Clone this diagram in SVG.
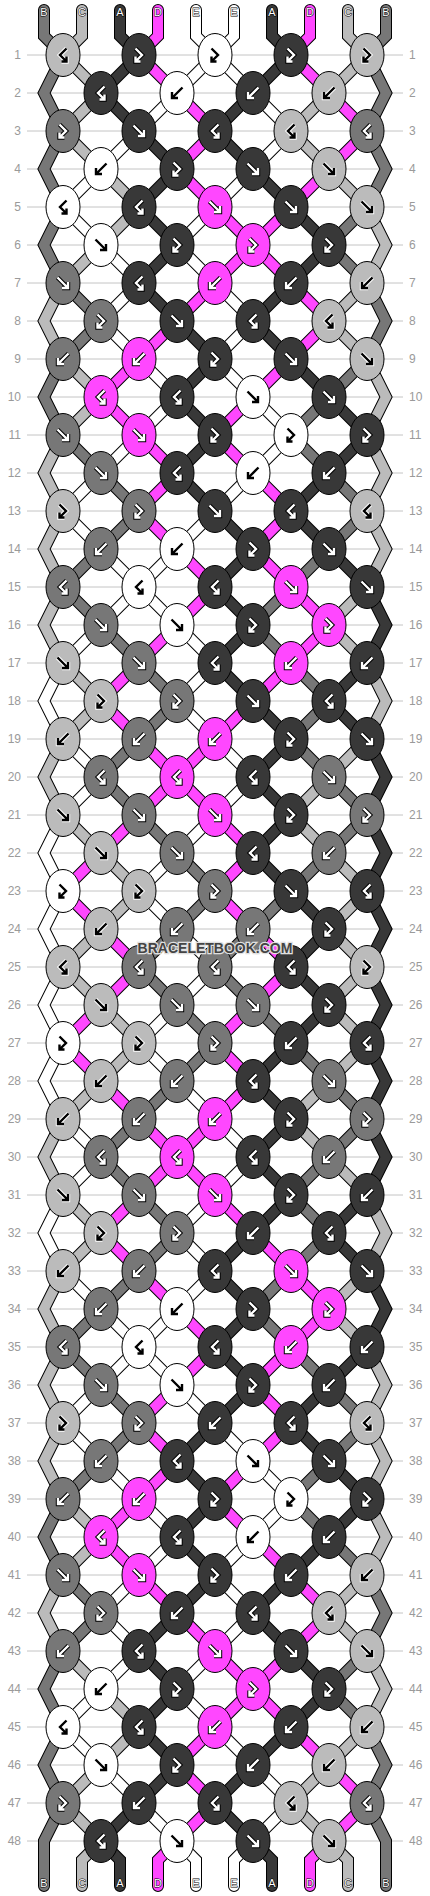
<svg xmlns="http://www.w3.org/2000/svg" width="430" height="1896" viewBox="0 0 430 1896">
<style>
.gl{stroke:#c4c4c4;stroke-width:1;fill:none}
.rl{font:12px "Liberation Sans",Arial,sans-serif;fill:#9a9a9a}
.ll{text-anchor:end}
.o{fill:none;stroke:#000;stroke-width:12;stroke-linecap:round;stroke-linejoin:miter}
.i{fill:none;stroke:currentColor;stroke-width:10;stroke-linecap:round;stroke-linejoin:miter}
.a{color:#383838}.b{color:#777}.c{color:#bbb}.d{color:#ff47ff}.e{color:#fff}
ellipse{stroke:#000;stroke-width:1}
.nA{fill:#383838}.nB{fill:#777}.nC{fill:#bbb}.nD{fill:#ff47ff}.nE{fill:#fff}
.go{fill:none;stroke:#000;stroke-width:4.4}
.gw{fill:none;stroke:#fff;stroke-width:2.4}
.ho{fill:none;stroke:#fff;stroke-width:4.4}
.hk{fill:none;stroke:#000;stroke-width:2.4}
.sl{font:11px "Liberation Sans",Arial,sans-serif;fill:#fff;stroke:#000;stroke-width:1;paint-order:stroke;text-anchor:middle}
.wm{font:bold 14px "Liberation Sans",Arial,sans-serif;fill:#444;stroke:#e0e0e0;stroke-width:2.5;paint-order:stroke;text-anchor:middle}
</style>
<defs>
<path id="pf" d="M-5.5-5.5L5 5M5-1V5H-1"/>
<path id="pb" d="M5.5-5.5L-5 5M-5-1V5H1"/>
<path id="pz" d="M-3.5-6.5L3 0L-3.5 6.5M-3.5 1.5V6.5H1.5"/>
<path id="ps" d="M3.5-6.5L-3 0L3.5 6.5M3.5 1.5V6.5H-1.5"/>
<g id="wf"><use href="#pf" class="go"/><use href="#pf" class="gw"/></g>
<g id="wb"><use href="#pb" class="go"/><use href="#pb" class="gw"/></g>
<g id="wz"><use href="#pz" class="go"/><use href="#pz" class="gw"/></g>
<g id="ws"><use href="#ps" class="go"/><use href="#ps" class="gw"/></g>
<g id="kf"><use href="#pf" class="ho"/><use href="#pf" class="hk"/></g>
<g id="kb"><use href="#pb" class="ho"/><use href="#pb" class="hk"/></g>
<g id="kz"><use href="#pz" class="ho"/><use href="#pz" class="hk"/></g>
<g id="ks"><use href="#ps" class="ho"/><use href="#ps" class="hk"/></g>
<g id="r"><path class="o" d="M0 0l38 38"/><path class="i" d="M0 0l38 38"/></g>
<g id="l"><path class="o" d="M0 0l-38 38"/><path class="i" d="M0 0l-38 38"/></g>
<g id="zl"><path class="o" d="M63 0L44 38L63 76"/><path class="i" d="M63 0L44 38L63 76"/></g>
<g id="zr"><path class="o" d="M367 0L386 38L367 76"/><path class="i" d="M367 0L386 38L367 76"/></g>
<g id="tr"><path class="o" d="M0 10V36l19 19"/><path class="i" d="M0 10V36l19 19"/></g>
<g id="tl"><path class="o" d="M0 10V36l-19 19"/><path class="i" d="M0 10V36l-19 19"/></g>
<g id="br"><path class="o" d="M0 0l19 19V45"/><path class="i" d="M0 0l19 19V45"/></g>
<g id="bl"><path class="o" d="M0 0l-19 19V45"/><path class="i" d="M0 0l-19 19V45"/></g>
</defs>
<rect width="430" height="1896" fill="#fff"/>
<g id="grid">
<path class="gl" d="M27 55H403M27 93H403M27 131H403M27 169H403M27 207H403M27 245H403M27 283H403M27 321H403M27 359H403M27 397H403M27 435H403M27 473H403M27 511H403M27 549H403M27 587H403M27 625H403M27 663H403M27 701H403M27 739H403M27 777H403M27 815H403M27 853H403M27 891H403M27 929H403M27 967H403M27 1005H403M27 1043H403M27 1081H403M27 1119H403M27 1157H403M27 1195H403M27 1233H403M27 1271H403M27 1309H403M27 1347H403M27 1385H403M27 1423H403M27 1461H403M27 1499H403M27 1537H403M27 1575H403M27 1613H403M27 1651H403M27 1689H403M27 1727H403M27 1765H403M27 1803H403M27 1841H403"/>
<g class="rl ll">
<text x="21" y="59">1</text><text x="21" y="97">2</text><text x="21" y="135">3</text><text x="21" y="173">4</text><text x="21" y="211">5</text><text x="21" y="249">6</text><text x="21" y="287">7</text><text x="21" y="325">8</text><text x="21" y="363">9</text><text x="21" y="401">10</text><text x="21" y="439">11</text><text x="21" y="477">12</text><text x="21" y="515">13</text><text x="21" y="553">14</text><text x="21" y="591">15</text><text x="21" y="629">16</text><text x="21" y="667">17</text><text x="21" y="705">18</text><text x="21" y="743">19</text><text x="21" y="781">20</text><text x="21" y="819">21</text><text x="21" y="857">22</text><text x="21" y="895">23</text><text x="21" y="933">24</text><text x="21" y="971">25</text><text x="21" y="1009">26</text><text x="21" y="1047">27</text><text x="21" y="1085">28</text><text x="21" y="1123">29</text><text x="21" y="1161">30</text><text x="21" y="1199">31</text><text x="21" y="1237">32</text><text x="21" y="1275">33</text><text x="21" y="1313">34</text><text x="21" y="1351">35</text><text x="21" y="1389">36</text><text x="21" y="1427">37</text><text x="21" y="1465">38</text><text x="21" y="1503">39</text><text x="21" y="1541">40</text><text x="21" y="1579">41</text><text x="21" y="1617">42</text><text x="21" y="1655">43</text><text x="21" y="1693">44</text><text x="21" y="1731">45</text><text x="21" y="1769">46</text><text x="21" y="1807">47</text><text x="21" y="1845">48</text>
</g>
<g class="rl">
<text x="409" y="59">1</text><text x="409" y="97">2</text><text x="409" y="135">3</text><text x="409" y="173">4</text><text x="409" y="211">5</text><text x="409" y="249">6</text><text x="409" y="287">7</text><text x="409" y="325">8</text><text x="409" y="363">9</text><text x="409" y="401">10</text><text x="409" y="439">11</text><text x="409" y="477">12</text><text x="409" y="515">13</text><text x="409" y="553">14</text><text x="409" y="591">15</text><text x="409" y="629">16</text><text x="409" y="667">17</text><text x="409" y="705">18</text><text x="409" y="743">19</text><text x="409" y="781">20</text><text x="409" y="819">21</text><text x="409" y="857">22</text><text x="409" y="895">23</text><text x="409" y="933">24</text><text x="409" y="971">25</text><text x="409" y="1009">26</text><text x="409" y="1047">27</text><text x="409" y="1085">28</text><text x="409" y="1123">29</text><text x="409" y="1161">30</text><text x="409" y="1199">31</text><text x="409" y="1237">32</text><text x="409" y="1275">33</text><text x="409" y="1313">34</text><text x="409" y="1351">35</text><text x="409" y="1389">36</text><text x="409" y="1427">37</text><text x="409" y="1465">38</text><text x="409" y="1503">39</text><text x="409" y="1541">40</text><text x="409" y="1579">41</text><text x="409" y="1617">42</text><text x="409" y="1655">43</text><text x="409" y="1693">44</text><text x="409" y="1731">45</text><text x="409" y="1769">46</text><text x="409" y="1807">47</text><text x="409" y="1845">48</text>
</g>
</g>
<g id="connectors">
<use href="#tr" x="44" class="b"/><use href="#tl" x="82" class="c"/><use href="#tr" x="120" class="a"/><use href="#tl" x="158" class="d"/><use href="#tr" x="196" class="e"/><use href="#tl" x="234" class="e"/><use href="#tr" x="272" class="a"/><use href="#tl" x="310" class="d"/><use href="#tr" x="348" class="c"/><use href="#tl" x="386" class="b"/>
<use href="#zl" y="55" class="b"/><use href="#zl" y="131" class="b"/><use href="#zl" y="207" class="b"/><use href="#zl" y="283" class="c"/><use href="#zl" y="359" class="b"/><use href="#zl" y="435" class="c"/><use href="#zl" y="511" class="c"/><use href="#zl" y="587" class="c"/><use href="#zl" y="663" class="e"/><use href="#zl" y="739" class="c"/><use href="#zl" y="815" class="e"/><use href="#zl" y="891" class="e"/><use href="#zl" y="967" class="e"/><use href="#zl" y="1043" class="e"/><use href="#zl" y="1119" class="c"/><use href="#zl" y="1195" class="e"/><use href="#zl" y="1271" class="c"/><use href="#zl" y="1347" class="c"/><use href="#zl" y="1423" class="c"/><use href="#zl" y="1499" class="b"/><use href="#zl" y="1575" class="c"/><use href="#zl" y="1651" class="b"/><use href="#zl" y="1727" class="b"/>
<use href="#zr" y="55" class="b"/><use href="#zr" y="131" class="b"/><use href="#zr" y="207" class="c"/><use href="#zr" y="283" class="b"/><use href="#zr" y="359" class="c"/><use href="#zr" y="435" class="c"/><use href="#zr" y="511" class="c"/><use href="#zr" y="587" class="a"/><use href="#zr" y="663" class="c"/><use href="#zr" y="739" class="a"/><use href="#zr" y="815" class="a"/><use href="#zr" y="891" class="a"/><use href="#zr" y="967" class="a"/><use href="#zr" y="1043" class="a"/><use href="#zr" y="1119" class="a"/><use href="#zr" y="1195" class="c"/><use href="#zr" y="1271" class="a"/><use href="#zr" y="1347" class="c"/><use href="#zr" y="1423" class="c"/><use href="#zr" y="1499" class="c"/><use href="#zr" y="1575" class="b"/><use href="#zr" y="1651" class="c"/><use href="#zr" y="1727" class="b"/>
<g class="b"><path class="o" d="M63 1803L44 1841V1886"/><path class="i" d="M63 1803L44 1841V1886"/><path class="o" d="M367 1803L386 1841V1886"/><path class="i" d="M367 1803L386 1841V1886"/></g>
<g transform="translate(0 1841)"><use href="#bl" x="101" class="c"/><use href="#br" x="101" class="a"/><use href="#bl" x="177" class="d"/><use href="#br" x="177" class="e"/><use href="#bl" x="253" class="e"/><use href="#br" x="253" class="a"/><use href="#bl" x="329" class="d"/><use href="#br" x="329" class="c"/></g>
<g transform="translate(0 55)"><use href="#r" x="63" class="c"/><use href="#l" x="139" class="a"/><use href="#r" x="139" class="d"/><use href="#l" x="215" class="e"/><use href="#r" x="215" class="e"/><use href="#l" x="291" class="a"/><use href="#r" x="291" class="d"/><use href="#l" x="367" class="c"/></g>
<g transform="translate(0 93)"><use href="#l" x="101" class="c"/><use href="#r" x="101" class="a"/><use href="#l" x="177" class="e"/><use href="#r" x="177" class="d"/><use href="#l" x="253" class="a"/><use href="#r" x="253" class="e"/><use href="#l" x="329" class="c"/><use href="#r" x="329" class="d"/></g>
<g transform="translate(0 131)"><use href="#r" x="63" class="c"/><use href="#l" x="139" class="e"/><use href="#r" x="139" class="a"/><use href="#l" x="215" class="d"/><use href="#r" x="215" class="a"/><use href="#l" x="291" class="e"/><use href="#r" x="291" class="c"/><use href="#l" x="367" class="d"/></g>
<g transform="translate(0 169)"><use href="#l" x="101" class="e"/><use href="#r" x="101" class="c"/><use href="#l" x="177" class="a"/><use href="#r" x="177" class="d"/><use href="#l" x="253" class="e"/><use href="#r" x="253" class="a"/><use href="#l" x="329" class="d"/><use href="#r" x="329" class="c"/></g>
<g transform="translate(0 207)"><use href="#r" x="63" class="e"/><use href="#l" x="139" class="c"/><use href="#r" x="139" class="a"/><use href="#l" x="215" class="e"/><use href="#r" x="215" class="d"/><use href="#l" x="291" class="d"/><use href="#r" x="291" class="a"/><use href="#l" x="367" class="b"/></g>
<g transform="translate(0 245)"><use href="#l" x="101" class="c"/><use href="#r" x="101" class="e"/><use href="#l" x="177" class="a"/><use href="#r" x="177" class="e"/><use href="#l" x="253" class="d"/><use href="#r" x="253" class="d"/><use href="#l" x="329" class="a"/><use href="#r" x="329" class="b"/></g>
<g transform="translate(0 283)"><use href="#r" x="63" class="b"/><use href="#l" x="139" class="e"/><use href="#r" x="139" class="a"/><use href="#l" x="215" class="d"/><use href="#r" x="215" class="e"/><use href="#l" x="291" class="a"/><use href="#r" x="291" class="d"/><use href="#l" x="367" class="c"/></g>
<g transform="translate(0 321)"><use href="#l" x="101" class="b"/><use href="#r" x="101" class="e"/><use href="#l" x="177" class="d"/><use href="#r" x="177" class="a"/><use href="#l" x="253" class="e"/><use href="#r" x="253" class="a"/><use href="#l" x="329" class="d"/><use href="#r" x="329" class="c"/></g>
<g transform="translate(0 359)"><use href="#r" x="63" class="c"/><use href="#l" x="139" class="d"/><use href="#r" x="139" class="e"/><use href="#l" x="215" class="a"/><use href="#r" x="215" class="e"/><use href="#l" x="291" class="d"/><use href="#r" x="291" class="a"/><use href="#l" x="367" class="b"/></g>
<g transform="translate(0 397)"><use href="#l" x="101" class="c"/><use href="#r" x="101" class="d"/><use href="#l" x="177" class="e"/><use href="#r" x="177" class="a"/><use href="#l" x="253" class="d"/><use href="#r" x="253" class="e"/><use href="#l" x="329" class="b"/><use href="#r" x="329" class="a"/></g>
<g transform="translate(0 435)"><use href="#r" x="63" class="b"/><use href="#l" x="139" class="e"/><use href="#r" x="139" class="d"/><use href="#l" x="215" class="a"/><use href="#r" x="215" class="d"/><use href="#l" x="291" class="e"/><use href="#r" x="291" class="b"/><use href="#l" x="367" class="a"/></g>
<g transform="translate(0 473)"><use href="#l" x="101" class="e"/><use href="#r" x="101" class="b"/><use href="#l" x="177" class="d"/><use href="#r" x="177" class="a"/><use href="#l" x="253" class="e"/><use href="#r" x="253" class="d"/><use href="#l" x="329" class="a"/><use href="#r" x="329" class="b"/></g>
<g transform="translate(0 511)"><use href="#r" x="63" class="e"/><use href="#l" x="139" class="b"/><use href="#r" x="139" class="d"/><use href="#l" x="215" class="e"/><use href="#r" x="215" class="a"/><use href="#l" x="291" class="d"/><use href="#r" x="291" class="a"/><use href="#l" x="367" class="b"/></g>
<g transform="translate(0 549)"><use href="#l" x="101" class="b"/><use href="#r" x="101" class="e"/><use href="#l" x="177" class="e"/><use href="#r" x="177" class="d"/><use href="#l" x="253" class="a"/><use href="#r" x="253" class="d"/><use href="#l" x="329" class="b"/><use href="#r" x="329" class="a"/></g>
<g transform="translate(0 587)"><use href="#r" x="63" class="b"/><use href="#l" x="139" class="e"/><use href="#r" x="139" class="e"/><use href="#l" x="215" class="d"/><use href="#r" x="215" class="a"/><use href="#l" x="291" class="b"/><use href="#r" x="291" class="d"/><use href="#l" x="367" class="c"/></g>
<g transform="translate(0 625)"><use href="#l" x="101" class="e"/><use href="#r" x="101" class="b"/><use href="#l" x="177" class="d"/><use href="#r" x="177" class="e"/><use href="#l" x="253" class="a"/><use href="#r" x="253" class="b"/><use href="#l" x="329" class="d"/><use href="#r" x="329" class="c"/></g>
<g transform="translate(0 663)"><use href="#r" x="63" class="c"/><use href="#l" x="139" class="d"/><use href="#r" x="139" class="b"/><use href="#l" x="215" class="e"/><use href="#r" x="215" class="a"/><use href="#l" x="291" class="d"/><use href="#r" x="291" class="b"/><use href="#l" x="367" class="a"/></g>
<g transform="translate(0 701)"><use href="#l" x="101" class="c"/><use href="#r" x="101" class="d"/><use href="#l" x="177" class="b"/><use href="#r" x="177" class="e"/><use href="#l" x="253" class="d"/><use href="#r" x="253" class="a"/><use href="#l" x="329" class="b"/><use href="#r" x="329" class="a"/></g>
<g transform="translate(0 739)"><use href="#r" x="63" class="e"/><use href="#l" x="139" class="b"/><use href="#r" x="139" class="d"/><use href="#l" x="215" class="d"/><use href="#r" x="215" class="e"/><use href="#l" x="291" class="a"/><use href="#r" x="291" class="b"/><use href="#l" x="367" class="c"/></g>
<g transform="translate(0 777)"><use href="#l" x="101" class="e"/><use href="#r" x="101" class="b"/><use href="#l" x="177" class="d"/><use href="#r" x="177" class="d"/><use href="#l" x="253" class="e"/><use href="#r" x="253" class="a"/><use href="#l" x="329" class="c"/><use href="#r" x="329" class="b"/></g>
<g transform="translate(0 815)"><use href="#r" x="63" class="c"/><use href="#l" x="139" class="d"/><use href="#r" x="139" class="b"/><use href="#l" x="215" class="e"/><use href="#r" x="215" class="d"/><use href="#l" x="291" class="a"/><use href="#r" x="291" class="c"/><use href="#l" x="367" class="b"/></g>
<g transform="translate(0 853)"><use href="#l" x="101" class="d"/><use href="#r" x="101" class="c"/><use href="#l" x="177" class="e"/><use href="#r" x="177" class="b"/><use href="#l" x="253" class="d"/><use href="#r" x="253" class="a"/><use href="#l" x="329" class="b"/><use href="#r" x="329" class="c"/></g>
<g transform="translate(0 891)"><use href="#r" x="63" class="d"/><use href="#l" x="139" class="c"/><use href="#r" x="139" class="e"/><use href="#l" x="215" class="b"/><use href="#r" x="215" class="d"/><use href="#l" x="291" class="b"/><use href="#r" x="291" class="a"/><use href="#l" x="367" class="c"/></g>
<g transform="translate(0 929)"><use href="#l" x="101" class="c"/><use href="#r" x="101" class="d"/><use href="#l" x="177" class="b"/><use href="#r" x="177" class="e"/><use href="#l" x="253" class="b"/><use href="#r" x="253" class="d"/><use href="#l" x="329" class="a"/><use href="#r" x="329" class="c"/></g>
<g transform="translate(0 967)"><use href="#r" x="63" class="c"/><use href="#l" x="139" class="d"/><use href="#r" x="139" class="b"/><use href="#l" x="215" class="e"/><use href="#r" x="215" class="b"/><use href="#l" x="291" class="d"/><use href="#r" x="291" class="a"/><use href="#l" x="367" class="c"/></g>
<g transform="translate(0 1005)"><use href="#l" x="101" class="d"/><use href="#r" x="101" class="c"/><use href="#l" x="177" class="e"/><use href="#r" x="177" class="b"/><use href="#l" x="253" class="d"/><use href="#r" x="253" class="b"/><use href="#l" x="329" class="a"/><use href="#r" x="329" class="c"/></g>
<g transform="translate(0 1043)"><use href="#r" x="63" class="d"/><use href="#l" x="139" class="c"/><use href="#r" x="139" class="e"/><use href="#l" x="215" class="b"/><use href="#r" x="215" class="d"/><use href="#l" x="291" class="a"/><use href="#r" x="291" class="b"/><use href="#l" x="367" class="c"/></g>
<g transform="translate(0 1081)"><use href="#l" x="101" class="c"/><use href="#r" x="101" class="d"/><use href="#l" x="177" class="b"/><use href="#r" x="177" class="e"/><use href="#l" x="253" class="d"/><use href="#r" x="253" class="a"/><use href="#l" x="329" class="c"/><use href="#r" x="329" class="b"/></g>
<g transform="translate(0 1119)"><use href="#r" x="63" class="e"/><use href="#l" x="139" class="b"/><use href="#r" x="139" class="d"/><use href="#l" x="215" class="d"/><use href="#r" x="215" class="e"/><use href="#l" x="291" class="a"/><use href="#r" x="291" class="c"/><use href="#l" x="367" class="b"/></g>
<g transform="translate(0 1157)"><use href="#l" x="101" class="e"/><use href="#r" x="101" class="b"/><use href="#l" x="177" class="d"/><use href="#r" x="177" class="d"/><use href="#l" x="253" class="e"/><use href="#r" x="253" class="a"/><use href="#l" x="329" class="b"/><use href="#r" x="329" class="c"/></g>
<g transform="translate(0 1195)"><use href="#r" x="63" class="c"/><use href="#l" x="139" class="d"/><use href="#r" x="139" class="b"/><use href="#l" x="215" class="e"/><use href="#r" x="215" class="d"/><use href="#l" x="291" class="a"/><use href="#r" x="291" class="b"/><use href="#l" x="367" class="a"/></g>
<g transform="translate(0 1233)"><use href="#l" x="101" class="c"/><use href="#r" x="101" class="d"/><use href="#l" x="177" class="b"/><use href="#r" x="177" class="e"/><use href="#l" x="253" class="a"/><use href="#r" x="253" class="d"/><use href="#l" x="329" class="b"/><use href="#r" x="329" class="a"/></g>
<g transform="translate(0 1271)"><use href="#r" x="63" class="e"/><use href="#l" x="139" class="b"/><use href="#r" x="139" class="d"/><use href="#l" x="215" class="e"/><use href="#r" x="215" class="a"/><use href="#l" x="291" class="b"/><use href="#r" x="291" class="d"/><use href="#l" x="367" class="c"/></g>
<g transform="translate(0 1309)"><use href="#l" x="101" class="b"/><use href="#r" x="101" class="e"/><use href="#l" x="177" class="e"/><use href="#r" x="177" class="d"/><use href="#l" x="253" class="a"/><use href="#r" x="253" class="b"/><use href="#l" x="329" class="d"/><use href="#r" x="329" class="c"/></g>
<g transform="translate(0 1347)"><use href="#r" x="63" class="b"/><use href="#l" x="139" class="e"/><use href="#r" x="139" class="e"/><use href="#l" x="215" class="d"/><use href="#r" x="215" class="a"/><use href="#l" x="291" class="d"/><use href="#r" x="291" class="b"/><use href="#l" x="367" class="a"/></g>
<g transform="translate(0 1385)"><use href="#l" x="101" class="e"/><use href="#r" x="101" class="b"/><use href="#l" x="177" class="d"/><use href="#r" x="177" class="e"/><use href="#l" x="253" class="a"/><use href="#r" x="253" class="d"/><use href="#l" x="329" class="a"/><use href="#r" x="329" class="b"/></g>
<g transform="translate(0 1423)"><use href="#r" x="63" class="e"/><use href="#l" x="139" class="b"/><use href="#r" x="139" class="d"/><use href="#l" x="215" class="a"/><use href="#r" x="215" class="e"/><use href="#l" x="291" class="d"/><use href="#r" x="291" class="a"/><use href="#l" x="367" class="b"/></g>
<g transform="translate(0 1461)"><use href="#l" x="101" class="b"/><use href="#r" x="101" class="e"/><use href="#l" x="177" class="d"/><use href="#r" x="177" class="a"/><use href="#l" x="253" class="d"/><use href="#r" x="253" class="e"/><use href="#l" x="329" class="b"/><use href="#r" x="329" class="a"/></g>
<g transform="translate(0 1499)"><use href="#r" x="63" class="c"/><use href="#l" x="139" class="d"/><use href="#r" x="139" class="e"/><use href="#l" x="215" class="a"/><use href="#r" x="215" class="d"/><use href="#l" x="291" class="e"/><use href="#r" x="291" class="b"/><use href="#l" x="367" class="a"/></g>
<g transform="translate(0 1537)"><use href="#l" x="101" class="c"/><use href="#r" x="101" class="d"/><use href="#l" x="177" class="e"/><use href="#r" x="177" class="a"/><use href="#l" x="253" class="e"/><use href="#r" x="253" class="d"/><use href="#l" x="329" class="a"/><use href="#r" x="329" class="b"/></g>
<g transform="translate(0 1575)"><use href="#r" x="63" class="b"/><use href="#l" x="139" class="e"/><use href="#r" x="139" class="d"/><use href="#l" x="215" class="a"/><use href="#r" x="215" class="e"/><use href="#l" x="291" class="a"/><use href="#r" x="291" class="d"/><use href="#l" x="367" class="c"/></g>
<g transform="translate(0 1613)"><use href="#l" x="101" class="b"/><use href="#r" x="101" class="e"/><use href="#l" x="177" class="a"/><use href="#r" x="177" class="d"/><use href="#l" x="253" class="e"/><use href="#r" x="253" class="a"/><use href="#l" x="329" class="d"/><use href="#r" x="329" class="c"/></g>
<g transform="translate(0 1651)"><use href="#r" x="63" class="c"/><use href="#l" x="139" class="e"/><use href="#r" x="139" class="a"/><use href="#l" x="215" class="e"/><use href="#r" x="215" class="d"/><use href="#l" x="291" class="d"/><use href="#r" x="291" class="a"/><use href="#l" x="367" class="b"/></g>
<g transform="translate(0 1689)"><use href="#l" x="101" class="e"/><use href="#r" x="101" class="c"/><use href="#l" x="177" class="a"/><use href="#r" x="177" class="e"/><use href="#l" x="253" class="d"/><use href="#r" x="253" class="d"/><use href="#l" x="329" class="a"/><use href="#r" x="329" class="b"/></g>
<g transform="translate(0 1727)"><use href="#r" x="63" class="e"/><use href="#l" x="139" class="c"/><use href="#r" x="139" class="a"/><use href="#l" x="215" class="d"/><use href="#r" x="215" class="e"/><use href="#l" x="291" class="a"/><use href="#r" x="291" class="d"/><use href="#l" x="367" class="c"/></g>
<g transform="translate(0 1765)"><use href="#l" x="101" class="c"/><use href="#r" x="101" class="e"/><use href="#l" x="177" class="a"/><use href="#r" x="177" class="d"/><use href="#l" x="253" class="a"/><use href="#r" x="253" class="e"/><use href="#l" x="329" class="c"/><use href="#r" x="329" class="d"/></g>
<g transform="translate(0 1803)"><use href="#r" x="63" class="c"/><use href="#l" x="139" class="a"/><use href="#r" x="139" class="e"/><use href="#l" x="215" class="d"/><use href="#r" x="215" class="a"/><use href="#l" x="291" class="e"/><use href="#r" x="291" class="c"/><use href="#l" x="367" class="d"/></g>
</g>
<g id="knots">
<g id="k1-1" class="nC" transform="translate(63 55)"><ellipse rx="17" ry="21.5"/><use href="#ks"/></g>
<g id="k1-2" class="nA" transform="translate(139 55)"><ellipse rx="17" ry="21.5"/><use href="#wz"/></g>
<g id="k1-3" class="nE" transform="translate(215 55)"><ellipse rx="17" ry="21.5"/><use href="#kz"/></g>
<g id="k1-4" class="nA" transform="translate(291 55)"><ellipse rx="17" ry="21.5"/><use href="#wz"/></g>
<g id="k1-5" class="nC" transform="translate(367 55)"><ellipse rx="17" ry="21.5"/><use href="#kz"/></g>
<g id="k2-1" class="nA" transform="translate(101 93)"><ellipse rx="17" ry="21.5"/><use href="#ws"/></g>
<g id="k2-2" class="nE" transform="translate(177 93)"><ellipse rx="17" ry="21.5"/><use href="#kb"/></g>
<g id="k2-3" class="nA" transform="translate(253 93)"><ellipse rx="17" ry="21.5"/><use href="#wb"/></g>
<g id="k2-4" class="nC" transform="translate(329 93)"><ellipse rx="17" ry="21.5"/><use href="#kb"/></g>
<g id="k3-1" class="nB" transform="translate(63 131)"><ellipse rx="17" ry="21.5"/><use href="#wz"/></g>
<g id="k3-2" class="nA" transform="translate(139 131)"><ellipse rx="17" ry="21.5"/><use href="#wf"/></g>
<g id="k3-3" class="nA" transform="translate(215 131)"><ellipse rx="17" ry="21.5"/><use href="#ws"/></g>
<g id="k3-4" class="nC" transform="translate(291 131)"><ellipse rx="17" ry="21.5"/><use href="#ks"/></g>
<g id="k3-5" class="nB" transform="translate(367 131)"><ellipse rx="17" ry="21.5"/><use href="#ws"/></g>
<g id="k4-1" class="nE" transform="translate(101 169)"><ellipse rx="17" ry="21.5"/><use href="#kb"/></g>
<g id="k4-2" class="nA" transform="translate(177 169)"><ellipse rx="17" ry="21.5"/><use href="#wz"/></g>
<g id="k4-3" class="nA" transform="translate(253 169)"><ellipse rx="17" ry="21.5"/><use href="#wf"/></g>
<g id="k4-4" class="nC" transform="translate(329 169)"><ellipse rx="17" ry="21.5"/><use href="#kf"/></g>
<g id="k5-1" class="nE" transform="translate(63 207)"><ellipse rx="17" ry="21.5"/><use href="#ks"/></g>
<g id="k5-2" class="nA" transform="translate(139 207)"><ellipse rx="17" ry="21.5"/><use href="#ws"/></g>
<g id="k5-3" class="nD" transform="translate(215 207)"><ellipse rx="17" ry="21.5"/><use href="#wf"/></g>
<g id="k5-4" class="nA" transform="translate(291 207)"><ellipse rx="17" ry="21.5"/><use href="#wf"/></g>
<g id="k5-5" class="nC" transform="translate(367 207)"><ellipse rx="17" ry="21.5"/><use href="#kf"/></g>
<g id="k6-1" class="nE" transform="translate(101 245)"><ellipse rx="17" ry="21.5"/><use href="#kf"/></g>
<g id="k6-2" class="nA" transform="translate(177 245)"><ellipse rx="17" ry="21.5"/><use href="#wz"/></g>
<g id="k6-3" class="nD" transform="translate(253 245)"><ellipse rx="17" ry="21.5"/><use href="#wz"/></g>
<g id="k6-4" class="nA" transform="translate(329 245)"><ellipse rx="17" ry="21.5"/><use href="#wz"/></g>
<g id="k7-1" class="nB" transform="translate(63 283)"><ellipse rx="17" ry="21.5"/><use href="#wf"/></g>
<g id="k7-2" class="nA" transform="translate(139 283)"><ellipse rx="17" ry="21.5"/><use href="#ws"/></g>
<g id="k7-3" class="nD" transform="translate(215 283)"><ellipse rx="17" ry="21.5"/><use href="#wb"/></g>
<g id="k7-4" class="nA" transform="translate(291 283)"><ellipse rx="17" ry="21.5"/><use href="#wb"/></g>
<g id="k7-5" class="nC" transform="translate(367 283)"><ellipse rx="17" ry="21.5"/><use href="#kb"/></g>
<g id="k8-1" class="nB" transform="translate(101 321)"><ellipse rx="17" ry="21.5"/><use href="#wz"/></g>
<g id="k8-2" class="nA" transform="translate(177 321)"><ellipse rx="17" ry="21.5"/><use href="#wf"/></g>
<g id="k8-3" class="nA" transform="translate(253 321)"><ellipse rx="17" ry="21.5"/><use href="#ws"/></g>
<g id="k8-4" class="nC" transform="translate(329 321)"><ellipse rx="17" ry="21.5"/><use href="#ks"/></g>
<g id="k9-1" class="nB" transform="translate(63 359)"><ellipse rx="17" ry="21.5"/><use href="#wb"/></g>
<g id="k9-2" class="nD" transform="translate(139 359)"><ellipse rx="17" ry="21.5"/><use href="#wb"/></g>
<g id="k9-3" class="nA" transform="translate(215 359)"><ellipse rx="17" ry="21.5"/><use href="#wz"/></g>
<g id="k9-4" class="nA" transform="translate(291 359)"><ellipse rx="17" ry="21.5"/><use href="#wf"/></g>
<g id="k9-5" class="nC" transform="translate(367 359)"><ellipse rx="17" ry="21.5"/><use href="#kf"/></g>
<g id="k10-1" class="nD" transform="translate(101 397)"><ellipse rx="17" ry="21.5"/><use href="#ws"/></g>
<g id="k10-2" class="nA" transform="translate(177 397)"><ellipse rx="17" ry="21.5"/><use href="#ws"/></g>
<g id="k10-3" class="nE" transform="translate(253 397)"><ellipse rx="17" ry="21.5"/><use href="#kf"/></g>
<g id="k10-4" class="nA" transform="translate(329 397)"><ellipse rx="17" ry="21.5"/><use href="#wf"/></g>
<g id="k11-1" class="nB" transform="translate(63 435)"><ellipse rx="17" ry="21.5"/><use href="#wf"/></g>
<g id="k11-2" class="nD" transform="translate(139 435)"><ellipse rx="17" ry="21.5"/><use href="#wf"/></g>
<g id="k11-3" class="nA" transform="translate(215 435)"><ellipse rx="17" ry="21.5"/><use href="#wz"/></g>
<g id="k11-4" class="nE" transform="translate(291 435)"><ellipse rx="17" ry="21.5"/><use href="#kz"/></g>
<g id="k11-5" class="nA" transform="translate(367 435)"><ellipse rx="17" ry="21.5"/><use href="#wz"/></g>
<g id="k12-1" class="nB" transform="translate(101 473)"><ellipse rx="17" ry="21.5"/><use href="#wf"/></g>
<g id="k12-2" class="nA" transform="translate(177 473)"><ellipse rx="17" ry="21.5"/><use href="#ws"/></g>
<g id="k12-3" class="nE" transform="translate(253 473)"><ellipse rx="17" ry="21.5"/><use href="#kb"/></g>
<g id="k12-4" class="nA" transform="translate(329 473)"><ellipse rx="17" ry="21.5"/><use href="#wb"/></g>
<g id="k13-1" class="nC" transform="translate(63 511)"><ellipse rx="17" ry="21.5"/><use href="#kz"/></g>
<g id="k13-2" class="nB" transform="translate(139 511)"><ellipse rx="17" ry="21.5"/><use href="#wz"/></g>
<g id="k13-3" class="nA" transform="translate(215 511)"><ellipse rx="17" ry="21.5"/><use href="#wf"/></g>
<g id="k13-4" class="nA" transform="translate(291 511)"><ellipse rx="17" ry="21.5"/><use href="#ws"/></g>
<g id="k13-5" class="nC" transform="translate(367 511)"><ellipse rx="17" ry="21.5"/><use href="#ks"/></g>
<g id="k14-1" class="nB" transform="translate(101 549)"><ellipse rx="17" ry="21.5"/><use href="#wb"/></g>
<g id="k14-2" class="nE" transform="translate(177 549)"><ellipse rx="17" ry="21.5"/><use href="#kb"/></g>
<g id="k14-3" class="nA" transform="translate(253 549)"><ellipse rx="17" ry="21.5"/><use href="#wz"/></g>
<g id="k14-4" class="nA" transform="translate(329 549)"><ellipse rx="17" ry="21.5"/><use href="#wf"/></g>
<g id="k15-1" class="nB" transform="translate(63 587)"><ellipse rx="17" ry="21.5"/><use href="#ws"/></g>
<g id="k15-2" class="nE" transform="translate(139 587)"><ellipse rx="17" ry="21.5"/><use href="#ks"/></g>
<g id="k15-3" class="nA" transform="translate(215 587)"><ellipse rx="17" ry="21.5"/><use href="#ws"/></g>
<g id="k15-4" class="nD" transform="translate(291 587)"><ellipse rx="17" ry="21.5"/><use href="#wf"/></g>
<g id="k15-5" class="nA" transform="translate(367 587)"><ellipse rx="17" ry="21.5"/><use href="#wf"/></g>
<g id="k16-1" class="nB" transform="translate(101 625)"><ellipse rx="17" ry="21.5"/><use href="#wf"/></g>
<g id="k16-2" class="nE" transform="translate(177 625)"><ellipse rx="17" ry="21.5"/><use href="#kf"/></g>
<g id="k16-3" class="nA" transform="translate(253 625)"><ellipse rx="17" ry="21.5"/><use href="#wz"/></g>
<g id="k16-4" class="nD" transform="translate(329 625)"><ellipse rx="17" ry="21.5"/><use href="#wz"/></g>
<g id="k17-1" class="nC" transform="translate(63 663)"><ellipse rx="17" ry="21.5"/><use href="#kf"/></g>
<g id="k17-2" class="nB" transform="translate(139 663)"><ellipse rx="17" ry="21.5"/><use href="#wf"/></g>
<g id="k17-3" class="nA" transform="translate(215 663)"><ellipse rx="17" ry="21.5"/><use href="#ws"/></g>
<g id="k17-4" class="nD" transform="translate(291 663)"><ellipse rx="17" ry="21.5"/><use href="#wb"/></g>
<g id="k17-5" class="nA" transform="translate(367 663)"><ellipse rx="17" ry="21.5"/><use href="#wb"/></g>
<g id="k18-1" class="nC" transform="translate(101 701)"><ellipse rx="17" ry="21.5"/><use href="#kz"/></g>
<g id="k18-2" class="nB" transform="translate(177 701)"><ellipse rx="17" ry="21.5"/><use href="#wz"/></g>
<g id="k18-3" class="nA" transform="translate(253 701)"><ellipse rx="17" ry="21.5"/><use href="#wf"/></g>
<g id="k18-4" class="nA" transform="translate(329 701)"><ellipse rx="17" ry="21.5"/><use href="#ws"/></g>
<g id="k19-1" class="nC" transform="translate(63 739)"><ellipse rx="17" ry="21.5"/><use href="#kb"/></g>
<g id="k19-2" class="nB" transform="translate(139 739)"><ellipse rx="17" ry="21.5"/><use href="#wb"/></g>
<g id="k19-3" class="nD" transform="translate(215 739)"><ellipse rx="17" ry="21.5"/><use href="#wb"/></g>
<g id="k19-4" class="nA" transform="translate(291 739)"><ellipse rx="17" ry="21.5"/><use href="#wz"/></g>
<g id="k19-5" class="nA" transform="translate(367 739)"><ellipse rx="17" ry="21.5"/><use href="#wf"/></g>
<g id="k20-1" class="nB" transform="translate(101 777)"><ellipse rx="17" ry="21.5"/><use href="#ws"/></g>
<g id="k20-2" class="nD" transform="translate(177 777)"><ellipse rx="17" ry="21.5"/><use href="#ws"/></g>
<g id="k20-3" class="nA" transform="translate(253 777)"><ellipse rx="17" ry="21.5"/><use href="#ws"/></g>
<g id="k20-4" class="nB" transform="translate(329 777)"><ellipse rx="17" ry="21.5"/><use href="#wf"/></g>
<g id="k21-1" class="nC" transform="translate(63 815)"><ellipse rx="17" ry="21.5"/><use href="#kf"/></g>
<g id="k21-2" class="nB" transform="translate(139 815)"><ellipse rx="17" ry="21.5"/><use href="#wf"/></g>
<g id="k21-3" class="nD" transform="translate(215 815)"><ellipse rx="17" ry="21.5"/><use href="#wf"/></g>
<g id="k21-4" class="nA" transform="translate(291 815)"><ellipse rx="17" ry="21.5"/><use href="#wz"/></g>
<g id="k21-5" class="nB" transform="translate(367 815)"><ellipse rx="17" ry="21.5"/><use href="#wz"/></g>
<g id="k22-1" class="nC" transform="translate(101 853)"><ellipse rx="17" ry="21.5"/><use href="#kf"/></g>
<g id="k22-2" class="nB" transform="translate(177 853)"><ellipse rx="17" ry="21.5"/><use href="#wf"/></g>
<g id="k22-3" class="nA" transform="translate(253 853)"><ellipse rx="17" ry="21.5"/><use href="#ws"/></g>
<g id="k22-4" class="nB" transform="translate(329 853)"><ellipse rx="17" ry="21.5"/><use href="#wb"/></g>
<g id="k23-1" class="nE" transform="translate(63 891)"><ellipse rx="17" ry="21.5"/><use href="#kz"/></g>
<g id="k23-2" class="nC" transform="translate(139 891)"><ellipse rx="17" ry="21.5"/><use href="#kz"/></g>
<g id="k23-3" class="nB" transform="translate(215 891)"><ellipse rx="17" ry="21.5"/><use href="#wz"/></g>
<g id="k23-4" class="nA" transform="translate(291 891)"><ellipse rx="17" ry="21.5"/><use href="#wf"/></g>
<g id="k23-5" class="nA" transform="translate(367 891)"><ellipse rx="17" ry="21.5"/><use href="#ws"/></g>
<g id="k24-1" class="nC" transform="translate(101 929)"><ellipse rx="17" ry="21.5"/><use href="#kb"/></g>
<g id="k24-2" class="nB" transform="translate(177 929)"><ellipse rx="17" ry="21.5"/><use href="#wb"/></g>
<g id="k24-3" class="nB" transform="translate(253 929)"><ellipse rx="17" ry="21.5"/><use href="#wb"/></g>
<g id="k24-4" class="nA" transform="translate(329 929)"><ellipse rx="17" ry="21.5"/><use href="#wz"/></g>
<g id="k25-1" class="nC" transform="translate(63 967)"><ellipse rx="17" ry="21.5"/><use href="#ks"/></g>
<g id="k25-2" class="nB" transform="translate(139 967)"><ellipse rx="17" ry="21.5"/><use href="#ws"/></g>
<g id="k25-3" class="nB" transform="translate(215 967)"><ellipse rx="17" ry="21.5"/><use href="#ws"/></g>
<g id="k25-4" class="nA" transform="translate(291 967)"><ellipse rx="17" ry="21.5"/><use href="#ws"/></g>
<g id="k25-5" class="nC" transform="translate(367 967)"><ellipse rx="17" ry="21.5"/><use href="#kz"/></g>
<g id="k26-1" class="nC" transform="translate(101 1005)"><ellipse rx="17" ry="21.5"/><use href="#kf"/></g>
<g id="k26-2" class="nB" transform="translate(177 1005)"><ellipse rx="17" ry="21.5"/><use href="#wf"/></g>
<g id="k26-3" class="nB" transform="translate(253 1005)"><ellipse rx="17" ry="21.5"/><use href="#wf"/></g>
<g id="k26-4" class="nA" transform="translate(329 1005)"><ellipse rx="17" ry="21.5"/><use href="#wz"/></g>
<g id="k27-1" class="nE" transform="translate(63 1043)"><ellipse rx="17" ry="21.5"/><use href="#kz"/></g>
<g id="k27-2" class="nC" transform="translate(139 1043)"><ellipse rx="17" ry="21.5"/><use href="#kz"/></g>
<g id="k27-3" class="nB" transform="translate(215 1043)"><ellipse rx="17" ry="21.5"/><use href="#wz"/></g>
<g id="k27-4" class="nA" transform="translate(291 1043)"><ellipse rx="17" ry="21.5"/><use href="#wb"/></g>
<g id="k27-5" class="nA" transform="translate(367 1043)"><ellipse rx="17" ry="21.5"/><use href="#ws"/></g>
<g id="k28-1" class="nC" transform="translate(101 1081)"><ellipse rx="17" ry="21.5"/><use href="#kb"/></g>
<g id="k28-2" class="nB" transform="translate(177 1081)"><ellipse rx="17" ry="21.5"/><use href="#wb"/></g>
<g id="k28-3" class="nA" transform="translate(253 1081)"><ellipse rx="17" ry="21.5"/><use href="#ws"/></g>
<g id="k28-4" class="nB" transform="translate(329 1081)"><ellipse rx="17" ry="21.5"/><use href="#wf"/></g>
<g id="k29-1" class="nC" transform="translate(63 1119)"><ellipse rx="17" ry="21.5"/><use href="#kb"/></g>
<g id="k29-2" class="nB" transform="translate(139 1119)"><ellipse rx="17" ry="21.5"/><use href="#wb"/></g>
<g id="k29-3" class="nD" transform="translate(215 1119)"><ellipse rx="17" ry="21.5"/><use href="#wb"/></g>
<g id="k29-4" class="nA" transform="translate(291 1119)"><ellipse rx="17" ry="21.5"/><use href="#wz"/></g>
<g id="k29-5" class="nB" transform="translate(367 1119)"><ellipse rx="17" ry="21.5"/><use href="#wz"/></g>
<g id="k30-1" class="nB" transform="translate(101 1157)"><ellipse rx="17" ry="21.5"/><use href="#ws"/></g>
<g id="k30-2" class="nD" transform="translate(177 1157)"><ellipse rx="17" ry="21.5"/><use href="#ws"/></g>
<g id="k30-3" class="nA" transform="translate(253 1157)"><ellipse rx="17" ry="21.5"/><use href="#ws"/></g>
<g id="k30-4" class="nB" transform="translate(329 1157)"><ellipse rx="17" ry="21.5"/><use href="#wb"/></g>
<g id="k31-1" class="nC" transform="translate(63 1195)"><ellipse rx="17" ry="21.5"/><use href="#kf"/></g>
<g id="k31-2" class="nB" transform="translate(139 1195)"><ellipse rx="17" ry="21.5"/><use href="#wf"/></g>
<g id="k31-3" class="nD" transform="translate(215 1195)"><ellipse rx="17" ry="21.5"/><use href="#wf"/></g>
<g id="k31-4" class="nA" transform="translate(291 1195)"><ellipse rx="17" ry="21.5"/><use href="#wz"/></g>
<g id="k31-5" class="nA" transform="translate(367 1195)"><ellipse rx="17" ry="21.5"/><use href="#wb"/></g>
<g id="k32-1" class="nC" transform="translate(101 1233)"><ellipse rx="17" ry="21.5"/><use href="#kz"/></g>
<g id="k32-2" class="nB" transform="translate(177 1233)"><ellipse rx="17" ry="21.5"/><use href="#wz"/></g>
<g id="k32-3" class="nA" transform="translate(253 1233)"><ellipse rx="17" ry="21.5"/><use href="#wb"/></g>
<g id="k32-4" class="nA" transform="translate(329 1233)"><ellipse rx="17" ry="21.5"/><use href="#ws"/></g>
<g id="k33-1" class="nC" transform="translate(63 1271)"><ellipse rx="17" ry="21.5"/><use href="#kb"/></g>
<g id="k33-2" class="nB" transform="translate(139 1271)"><ellipse rx="17" ry="21.5"/><use href="#wb"/></g>
<g id="k33-3" class="nA" transform="translate(215 1271)"><ellipse rx="17" ry="21.5"/><use href="#ws"/></g>
<g id="k33-4" class="nD" transform="translate(291 1271)"><ellipse rx="17" ry="21.5"/><use href="#wf"/></g>
<g id="k33-5" class="nA" transform="translate(367 1271)"><ellipse rx="17" ry="21.5"/><use href="#wf"/></g>
<g id="k34-1" class="nB" transform="translate(101 1309)"><ellipse rx="17" ry="21.5"/><use href="#wb"/></g>
<g id="k34-2" class="nE" transform="translate(177 1309)"><ellipse rx="17" ry="21.5"/><use href="#kb"/></g>
<g id="k34-3" class="nA" transform="translate(253 1309)"><ellipse rx="17" ry="21.5"/><use href="#wz"/></g>
<g id="k34-4" class="nD" transform="translate(329 1309)"><ellipse rx="17" ry="21.5"/><use href="#wz"/></g>
<g id="k35-1" class="nB" transform="translate(63 1347)"><ellipse rx="17" ry="21.5"/><use href="#ws"/></g>
<g id="k35-2" class="nE" transform="translate(139 1347)"><ellipse rx="17" ry="21.5"/><use href="#ks"/></g>
<g id="k35-3" class="nA" transform="translate(215 1347)"><ellipse rx="17" ry="21.5"/><use href="#ws"/></g>
<g id="k35-4" class="nD" transform="translate(291 1347)"><ellipse rx="17" ry="21.5"/><use href="#wb"/></g>
<g id="k35-5" class="nA" transform="translate(367 1347)"><ellipse rx="17" ry="21.5"/><use href="#wb"/></g>
<g id="k36-1" class="nB" transform="translate(101 1385)"><ellipse rx="17" ry="21.5"/><use href="#wf"/></g>
<g id="k36-2" class="nE" transform="translate(177 1385)"><ellipse rx="17" ry="21.5"/><use href="#kf"/></g>
<g id="k36-3" class="nA" transform="translate(253 1385)"><ellipse rx="17" ry="21.5"/><use href="#wz"/></g>
<g id="k36-4" class="nA" transform="translate(329 1385)"><ellipse rx="17" ry="21.5"/><use href="#wb"/></g>
<g id="k37-1" class="nC" transform="translate(63 1423)"><ellipse rx="17" ry="21.5"/><use href="#kz"/></g>
<g id="k37-2" class="nB" transform="translate(139 1423)"><ellipse rx="17" ry="21.5"/><use href="#wz"/></g>
<g id="k37-3" class="nA" transform="translate(215 1423)"><ellipse rx="17" ry="21.5"/><use href="#wb"/></g>
<g id="k37-4" class="nA" transform="translate(291 1423)"><ellipse rx="17" ry="21.5"/><use href="#ws"/></g>
<g id="k37-5" class="nC" transform="translate(367 1423)"><ellipse rx="17" ry="21.5"/><use href="#ks"/></g>
<g id="k38-1" class="nB" transform="translate(101 1461)"><ellipse rx="17" ry="21.5"/><use href="#wb"/></g>
<g id="k38-2" class="nA" transform="translate(177 1461)"><ellipse rx="17" ry="21.5"/><use href="#ws"/></g>
<g id="k38-3" class="nE" transform="translate(253 1461)"><ellipse rx="17" ry="21.5"/><use href="#kf"/></g>
<g id="k38-4" class="nA" transform="translate(329 1461)"><ellipse rx="17" ry="21.5"/><use href="#wf"/></g>
<g id="k39-1" class="nB" transform="translate(63 1499)"><ellipse rx="17" ry="21.5"/><use href="#wb"/></g>
<g id="k39-2" class="nD" transform="translate(139 1499)"><ellipse rx="17" ry="21.5"/><use href="#wb"/></g>
<g id="k39-3" class="nA" transform="translate(215 1499)"><ellipse rx="17" ry="21.5"/><use href="#wz"/></g>
<g id="k39-4" class="nE" transform="translate(291 1499)"><ellipse rx="17" ry="21.5"/><use href="#kz"/></g>
<g id="k39-5" class="nA" transform="translate(367 1499)"><ellipse rx="17" ry="21.5"/><use href="#wz"/></g>
<g id="k40-1" class="nD" transform="translate(101 1537)"><ellipse rx="17" ry="21.5"/><use href="#ws"/></g>
<g id="k40-2" class="nA" transform="translate(177 1537)"><ellipse rx="17" ry="21.5"/><use href="#ws"/></g>
<g id="k40-3" class="nE" transform="translate(253 1537)"><ellipse rx="17" ry="21.5"/><use href="#kb"/></g>
<g id="k40-4" class="nA" transform="translate(329 1537)"><ellipse rx="17" ry="21.5"/><use href="#wb"/></g>
<g id="k41-1" class="nB" transform="translate(63 1575)"><ellipse rx="17" ry="21.5"/><use href="#wf"/></g>
<g id="k41-2" class="nD" transform="translate(139 1575)"><ellipse rx="17" ry="21.5"/><use href="#wf"/></g>
<g id="k41-3" class="nA" transform="translate(215 1575)"><ellipse rx="17" ry="21.5"/><use href="#wz"/></g>
<g id="k41-4" class="nA" transform="translate(291 1575)"><ellipse rx="17" ry="21.5"/><use href="#wb"/></g>
<g id="k41-5" class="nC" transform="translate(367 1575)"><ellipse rx="17" ry="21.5"/><use href="#kb"/></g>
<g id="k42-1" class="nB" transform="translate(101 1613)"><ellipse rx="17" ry="21.5"/><use href="#wz"/></g>
<g id="k42-2" class="nA" transform="translate(177 1613)"><ellipse rx="17" ry="21.5"/><use href="#wb"/></g>
<g id="k42-3" class="nA" transform="translate(253 1613)"><ellipse rx="17" ry="21.5"/><use href="#ws"/></g>
<g id="k42-4" class="nC" transform="translate(329 1613)"><ellipse rx="17" ry="21.5"/><use href="#ks"/></g>
<g id="k43-1" class="nB" transform="translate(63 1651)"><ellipse rx="17" ry="21.5"/><use href="#wb"/></g>
<g id="k43-2" class="nA" transform="translate(139 1651)"><ellipse rx="17" ry="21.5"/><use href="#ws"/></g>
<g id="k43-3" class="nD" transform="translate(215 1651)"><ellipse rx="17" ry="21.5"/><use href="#wf"/></g>
<g id="k43-4" class="nA" transform="translate(291 1651)"><ellipse rx="17" ry="21.5"/><use href="#wf"/></g>
<g id="k43-5" class="nC" transform="translate(367 1651)"><ellipse rx="17" ry="21.5"/><use href="#kf"/></g>
<g id="k44-1" class="nE" transform="translate(101 1689)"><ellipse rx="17" ry="21.5"/><use href="#kb"/></g>
<g id="k44-2" class="nA" transform="translate(177 1689)"><ellipse rx="17" ry="21.5"/><use href="#wz"/></g>
<g id="k44-3" class="nD" transform="translate(253 1689)"><ellipse rx="17" ry="21.5"/><use href="#wz"/></g>
<g id="k44-4" class="nA" transform="translate(329 1689)"><ellipse rx="17" ry="21.5"/><use href="#wz"/></g>
<g id="k45-1" class="nE" transform="translate(63 1727)"><ellipse rx="17" ry="21.5"/><use href="#ks"/></g>
<g id="k45-2" class="nA" transform="translate(139 1727)"><ellipse rx="17" ry="21.5"/><use href="#ws"/></g>
<g id="k45-3" class="nD" transform="translate(215 1727)"><ellipse rx="17" ry="21.5"/><use href="#wb"/></g>
<g id="k45-4" class="nA" transform="translate(291 1727)"><ellipse rx="17" ry="21.5"/><use href="#wb"/></g>
<g id="k45-5" class="nC" transform="translate(367 1727)"><ellipse rx="17" ry="21.5"/><use href="#kb"/></g>
<g id="k46-1" class="nE" transform="translate(101 1765)"><ellipse rx="17" ry="21.5"/><use href="#kf"/></g>
<g id="k46-2" class="nA" transform="translate(177 1765)"><ellipse rx="17" ry="21.5"/><use href="#wz"/></g>
<g id="k46-3" class="nA" transform="translate(253 1765)"><ellipse rx="17" ry="21.5"/><use href="#wb"/></g>
<g id="k46-4" class="nC" transform="translate(329 1765)"><ellipse rx="17" ry="21.5"/><use href="#kb"/></g>
<g id="k47-1" class="nB" transform="translate(63 1803)"><ellipse rx="17" ry="21.5"/><use href="#wz"/></g>
<g id="k47-2" class="nA" transform="translate(139 1803)"><ellipse rx="17" ry="21.5"/><use href="#wb"/></g>
<g id="k47-3" class="nA" transform="translate(215 1803)"><ellipse rx="17" ry="21.5"/><use href="#ws"/></g>
<g id="k47-4" class="nC" transform="translate(291 1803)"><ellipse rx="17" ry="21.5"/><use href="#ks"/></g>
<g id="k47-5" class="nB" transform="translate(367 1803)"><ellipse rx="17" ry="21.5"/><use href="#ws"/></g>
<g id="k48-1" class="nA" transform="translate(101 1841)"><ellipse rx="17" ry="21.5"/><use href="#ws"/></g>
<g id="k48-2" class="nE" transform="translate(177 1841)"><ellipse rx="17" ry="21.5"/><use href="#kf"/></g>
<g id="k48-3" class="nA" transform="translate(253 1841)"><ellipse rx="17" ry="21.5"/><use href="#wf"/></g>
<g id="k48-4" class="nC" transform="translate(329 1841)"><ellipse rx="17" ry="21.5"/><use href="#kf"/></g>
</g>
<g id="string-labels" class="sl">
<text x="44" y="16">B</text><text x="82" y="16">C</text><text x="120" y="16">A</text><text x="158" y="16">D</text><text x="196" y="16">E</text><text x="234" y="16">E</text><text x="272" y="16">A</text><text x="310" y="16">D</text><text x="348" y="16">C</text><text x="386" y="16">B</text>
<text x="44" y="1887">B</text><text x="82" y="1887">C</text><text x="120" y="1887">A</text><text x="158" y="1887">D</text><text x="196" y="1887">E</text><text x="234" y="1887">E</text><text x="272" y="1887">A</text><text x="310" y="1887">D</text><text x="348" y="1887">C</text><text x="386" y="1887">B</text>
</g>
<text class="wm" x="215" y="953">BRACELETBOOK.COM</text>
</svg>
